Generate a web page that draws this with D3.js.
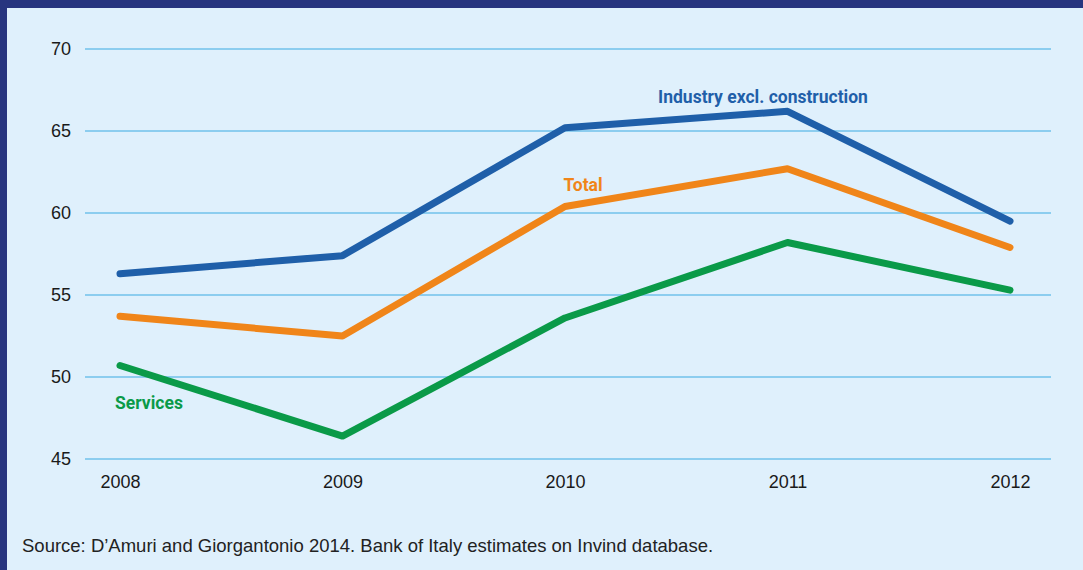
<!DOCTYPE html>
<html lang="en">
<head>
  <meta charset="UTF-8">
  <title>Chart</title>
  <style>
    body { margin: 0; background: #dff0fc; }
    svg { display: block; }
  </style>
</head>
<body>
<svg id="chart"></svg>
<script src="https://cdn.jsdelivr.net/npm/d3@7/dist/d3.min.js"></script>
<script>
const width = 1083;
const height = 570;

// data
const years = [2008, 2009, 2010, 2011, 2012];
const yTicks = [45, 50, 55, 60, 65, 70];
const industry = [56.3, 57.4, 65.2, 66.2, 59.5];
const total = [53.7, 52.5, 60.4, 62.7, 57.9];
const services = [50.7, 46.4, 53.6, 58.2, 55.3];
const seriesNames = ['Industry excl. construction', 'Total', 'Services'];
const source = 'Source: D\u2019Amuri and Giorgantonio 2014. Bank of Italy estimates on Invind database.';

const series = [
  { name: seriesNames[0], values: industry, color: '#1f5fa9', lx: 763, ly: 103 },
  { name: seriesNames[1], values: total, color: '#f08519', lx: 583, ly: 191 },
  { name: seriesNames[2], values: services, color: '#0a9a48', lx: 149, ly: 409 }
];

const svg = d3.select('#chart')
  .attr('width', width)
  .attr('height', height);

svg.append('rect')
  .attr('width', width).attr('height', height)
  .attr('fill', '#dff0fc');

// frame bars
svg.append('rect').attr('x', 0).attr('y', 0).attr('width', width).attr('height', 8).attr('fill', '#27357f');
svg.append('rect').attr('x', 0).attr('y', 0).attr('width', 7).attr('height', height).attr('fill', '#27357f');

const x = d3.scalePoint()
  .domain(years)
  .range([120, 1010]);

const y = d3.scaleLinear()
  .domain([45, 70])
  .range([459, 49]);

// grid
const grid = svg.append('g');
grid.selectAll('line')
  .data(yTicks)
  .enter()
  .append('line')
  .attr('x1', 85)
  .attr('x2', 1051)
  .attr('y1', d => y(d))
  .attr('y2', d => y(d))
  .attr('stroke', '#3aa9e2')
  .attr('stroke-width', 1.2);

const tickFont = 'Liberation Sans, Arial, sans-serif';

// y axis labels
const yAxis = svg.append('g')
  .attr('transform', 'translate(71,0)')
  .call(d3.axisLeft(y).tickValues(yTicks).tickSize(0).tickPadding(0));
yAxis.select('.domain').remove();
yAxis.selectAll('text')
  .attr('font-family', tickFont)
  .attr('font-size', 18)
  .attr('fill', '#1a1a1a');

// x axis labels
const xAxis = svg.append('g')
  .attr('transform', 'translate(0,475)')
  .call(d3.axisBottom(x).tickSize(0).tickPadding(0));
xAxis.select('.domain').remove();
xAxis.selectAll('text')
  .attr('font-family', tickFont)
  .attr('font-size', 18)
  .attr('fill', '#1a1a1a');

// lines
const line = d3.line()
  .x((d, i) => x(years[i]))
  .y(d => y(d));

svg.append('g')
  .selectAll('path')
  .data(series)
  .enter()
  .append('path')
  .attr('d', d => line(d.values))
  .attr('fill', 'none')
  .attr('stroke', d => d.color)
  .attr('stroke-width', 7)
  .attr('stroke-linecap', 'round')
  .attr('stroke-linejoin', 'round');

// series labels
svg.append('g')
  .selectAll('text')
  .data(series)
  .enter()
  .append('text')
  .attr('x', d => d.lx)
  .attr('y', d => d.ly)
  .attr('text-anchor', 'middle')
  .attr('font-family', 'Roboto, Liberation Sans, Arial, sans-serif')
  .attr('font-weight', 'bold')
  .attr('font-size', 17.5)
  .attr('fill', d => d.color)
  .text(d => d.name);

// source
svg.append('text')
  .attr('x', 22)
  .attr('y', 552)
  .attr('font-family', tickFont)
  .attr('font-size', 18.5)
  .attr('fill', '#222')
  .text(source);
</script>
</body>
</html>
